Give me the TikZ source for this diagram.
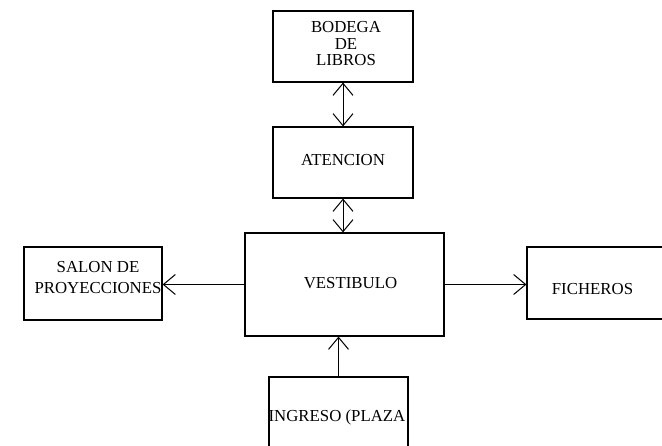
\documentclass[tikz,border=0pt]{standalone}
\usepackage{fontspec}
\setmainfont{Liberation Serif}
\usetikzlibrary{arrows.meta}
\tikzset{
  box/.style={draw, line width=1.2pt, inner sep=0pt, rectangle},
  lbl/.style={inner sep=0pt, align=center, font=\fontsize{16.8}{16.8}\selectfont},
  conn/.style={line width=1pt},
  tip/.style={Straight Barb[length=12pt,width=20pt]}
}
\begin{document}
\begin{tikzpicture}[x=1pt,y=-1pt]
\useasboundingbox (0,0) rectangle (662,446);
\fill[white] (0,0) rectangle (662,446);
\clip (0,0) rectangle (662,446);
% boxes
\node[box, minimum width=140pt, minimum height=71pt] (bod) at (343,46.5) {};
\node[box, minimum width=140pt, minimum height=71pt] (att) at (343,162.5) {};
\node[box, minimum width=199pt, minimum height=103pt] (ves) at (344.5,284.5) {};
\node[box, minimum width=138pt, minimum height=73pt] (sal) at (93,283.5) {};
\node[box, minimum width=170pt, minimum height=72pt] (fic) at (612,283) {};
\node[box, minimum width=139pt, minimum height=80pt] (ing) at (338.5,417) {};
% labels
\node[lbl, font=\fontsize{16.8}{16.5}\selectfont] (bodt) at (346,44) {BODEGA\\DE\\LIBROS};
\node[lbl] (attt) at (343,160) {ATENCION};
\node[lbl] (vest) at (350.5,283) {VESTIBULO};
\node[lbl, font=\fontsize{16.8}{21}\selectfont] (salt) at (98,277.5) {SALON DE\\PROYECCIONES};
\node[lbl] (fict) at (592.5,289) {FICHEROS};
\node[lbl] (ingt) at (337,417) {INGRESO (PLAZA};
% connectors
\draw[conn, {Straight Barb[length=12pt,width=20pt]}-{Straight Barb[length=12pt,width=20pt]}] (bod.south) -- (att.north);
\draw[conn, {Straight Barb[length=12pt,width=20pt]}-{Straight Barb[length=12pt,width=20pt]}] (att.south) -- (att.south |- ves.north);
\draw[conn, -{Straight Barb[length=12pt,width=20pt]}] (ves.west) -- (ves.west -| sal.east);
\draw[conn, -{Straight Barb[length=12pt,width=20pt]}] (ves.east) -- (ves.east -| fic.west);
\draw[conn, -{Straight Barb[length=12pt,width=20pt]}] (ing.north) -- (ing.north |- ves.south);
\end{tikzpicture}
\end{document}
